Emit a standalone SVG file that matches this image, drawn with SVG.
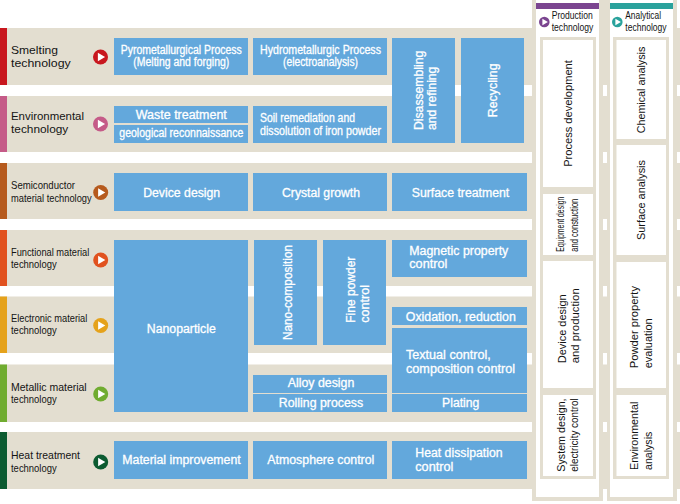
<svg xmlns="http://www.w3.org/2000/svg" width="680" height="504" viewBox="0 0 680 504">
<style>
.band{fill:#E3DED0}
.box{fill:#63A8DC}
.wh{fill:#FFFFFF}
.w{font-family:"Liberation Sans",Arial,sans-serif;fill:#FFFFFF;stroke:#FFFFFF;stroke-width:0.3;font-size:12px}
.c{text-anchor:middle}
.k{font-family:"Liberation Sans",Arial,sans-serif;fill:#141414;font-size:11px}
</style>
<defs>
<polygon id="tri" points="-2.6,-4.2 4.6,0 -2.6,4.2" fill="#FFFFFF"/>
<polygon id="tri2" points="-1.9,-3.2 3.6,0 -1.9,3.2" fill="#FFFFFF"/>
</defs>
<rect width="680" height="504" fill="#FFFFFF"/>

<g id="rows">
<g id="row-smelting">
<rect class="band" x="0" y="28" width="680" height="57"/>
<rect x="0" y="28" width="7" height="57" fill="#C8171E"/>
<text class="k" x="11" y="54" font-size="12.5" textLength="47" lengthAdjust="spacingAndGlyphs">Smelting</text>
<text class="k" x="11" y="66.5" font-size="12.5" textLength="59.7" lengthAdjust="spacingAndGlyphs">technology</text>
<circle cx="100.5" cy="57" r="7.5" fill="#C8171E"/><use href="#tri" x="100.5" y="57"/>
</g>
<g id="row-environmental">
<rect class="band" x="0" y="96" width="680" height="56"/>
<rect x="0" y="96" width="7" height="56" fill="#C55B88"/>
<text class="k" x="11" y="120" font-size="12" textLength="73" lengthAdjust="spacingAndGlyphs">Environmental</text>
<text class="k" x="11" y="132.7" font-size="12" textLength="57.3" lengthAdjust="spacingAndGlyphs">technology</text>
<circle cx="100.5" cy="124" r="7.5" fill="#C55B88"/><use href="#tri" x="100.5" y="124"/>
</g>
<g id="row-semiconductor">
<rect class="band" x="0" y="163" width="680" height="56"/>
<rect x="0" y="163" width="7" height="56" fill="#B65A1D"/>
<text class="k" x="11" y="189.3" textLength="64" lengthAdjust="spacingAndGlyphs">Semiconductor</text>
<text class="k" x="11" y="202.3" textLength="80.7" lengthAdjust="spacingAndGlyphs">material technology</text>
<circle cx="100.7" cy="192.5" r="7.5" fill="#B65A1D"/><use href="#tri" x="100.7" y="192.5"/>
</g>
<g id="row-functional">
<rect class="band" x="0" y="230" width="680" height="56"/>
<rect x="0" y="230" width="7" height="56" fill="#E1521F"/>
<text class="k" x="11" y="255.7" textLength="78.3" lengthAdjust="spacingAndGlyphs">Functional material</text>
<text class="k" x="11" y="268.3" textLength="45.7" lengthAdjust="spacingAndGlyphs">technology</text>
<circle cx="100.7" cy="260" r="7.5" fill="#E1521F"/><use href="#tri" x="100.7" y="260"/>
</g>
<g id="row-electronic">
<rect class="band" x="0" y="296.5" width="680" height="56.5"/>
<rect x="0" y="296.5" width="7" height="56.5" fill="#E5A21B"/>
<text class="k" x="11" y="321.7" textLength="76.3" lengthAdjust="spacingAndGlyphs">Electronic material</text>
<text class="k" x="11" y="334.3" textLength="45.7" lengthAdjust="spacingAndGlyphs">technology</text>
<circle cx="100.7" cy="325.5" r="7.5" fill="#E5A21B"/><use href="#tri" x="100.7" y="325.5"/>
</g>
<g id="row-metallic">
<rect class="band" x="0" y="364.5" width="680" height="57.5"/>
<rect x="0" y="364.5" width="7" height="57.5" fill="#70AC30"/>
<text class="k" x="11" y="390.7" textLength="75.7" lengthAdjust="spacingAndGlyphs">Metallic material</text>
<text class="k" x="11" y="403.3" textLength="45.7" lengthAdjust="spacingAndGlyphs">technology</text>
<circle cx="100.7" cy="394" r="7.5" fill="#70AC30"/><use href="#tri" x="100.7" y="394"/>
</g>
<g id="row-heat">
<rect class="band" x="0" y="432" width="680" height="57"/>
<rect x="0" y="432" width="7" height="57" fill="#0C5B31"/>
<text class="k" x="11" y="459" textLength="69" lengthAdjust="spacingAndGlyphs">Heat treatment</text>
<text class="k" x="11" y="471.7" textLength="45.7" lengthAdjust="spacingAndGlyphs">technology</text>
<circle cx="100.7" cy="462" r="7.5" fill="#0C5B31"/><use href="#tri" x="100.7" y="462"/>
</g>
</g>

<g id="boxes">
<g id="pyro"><rect class="box" x="114" y="38" width="134" height="37"/>
<text class="w c" x="181.3" y="53.5" textLength="121" lengthAdjust="spacingAndGlyphs">Pyrometallurgical Process</text>
<text class="w c" x="181.3" y="66" textLength="96" lengthAdjust="spacingAndGlyphs">(Melting and forging)</text></g>
<g id="hydro"><rect class="box" x="253" y="38" width="134" height="37"/>
<text class="w c" x="320.5" y="53.5" textLength="121" lengthAdjust="spacingAndGlyphs">Hydrometallurgic Process</text>
<text class="w c" x="320.5" y="66" textLength="75" lengthAdjust="spacingAndGlyphs">(electroanalysis)</text></g>
<g id="disassembling"><rect class="box" x="392" y="38" width="63" height="105"/>
<text class="w" transform="translate(423,130) rotate(-90)" textLength="79.3" lengthAdjust="spacingAndGlyphs">Disassembling</text>
<text class="w" transform="translate(436,130) rotate(-90)" textLength="63.3" lengthAdjust="spacingAndGlyphs">and refining</text></g>
<g id="recycling"><rect class="box" x="461" y="38" width="63" height="105"/>
<text class="w c" transform="translate(496.5,90.3) rotate(-90)" textLength="54" lengthAdjust="spacingAndGlyphs">Recycling</text></g>
<g id="waste"><rect class="box" x="114" y="106" width="134" height="17"/>
<text class="w c" x="181.3" y="118.7" font-size="13" textLength="91" lengthAdjust="spacingAndGlyphs">Waste treatment</text></g>
<g id="geological"><rect class="box" x="114" y="125" width="134" height="18"/>
<text class="w c" x="181.3" y="136.7" textLength="124" lengthAdjust="spacingAndGlyphs">geological reconnaissance</text></g>
<g id="soil"><rect class="box" x="253" y="106" width="134" height="37"/>
<text class="w" x="260" y="121.5" textLength="95" lengthAdjust="spacingAndGlyphs">Soil remediation and</text>
<text class="w" x="260" y="134.5" textLength="121" lengthAdjust="spacingAndGlyphs">dissolution of iron powder</text></g>
<g id="device"><rect class="box" x="114" y="173" width="134" height="38"/>
<text class="w c" x="181.7" y="196.7" textLength="77" lengthAdjust="spacingAndGlyphs">Device design</text></g>
<g id="crystal"><rect class="box" x="253" y="173" width="134" height="38"/>
<text class="w c" x="321" y="196.7" textLength="78" lengthAdjust="spacingAndGlyphs">Crystal growth</text></g>
<g id="surface"><rect class="box" x="392" y="173" width="135" height="38"/>
<text class="w c" x="460.5" y="196.7" textLength="97.6" lengthAdjust="spacingAndGlyphs">Surface treatment</text></g>
<g id="nanoparticle"><rect class="box" x="114" y="240" width="134" height="172"/>
<text class="w c" x="181.3" y="332.5" textLength="69" lengthAdjust="spacingAndGlyphs">Nanoparticle</text></g>
<g id="nanocomposition"><rect class="box" x="254" y="240" width="63" height="105"/>
<text class="w c" transform="translate(291.5,292.5) rotate(-90)" textLength="95" lengthAdjust="spacingAndGlyphs">Nano-composition</text></g>
<g id="finepowder"><rect class="box" x="323" y="240" width="63" height="105"/>
<text class="w" transform="translate(354.5,322.7) rotate(-90)" textLength="66" lengthAdjust="spacingAndGlyphs">Fine powder</text>
<text class="w" transform="translate(368.5,322.7) rotate(-90)" textLength="37.7" lengthAdjust="spacingAndGlyphs">control</text></g>
<g id="magnetic"><rect class="box" x="392" y="240" width="135" height="37"/>
<text class="w" x="409.3" y="255" textLength="99" lengthAdjust="spacingAndGlyphs">Magnetic property</text>
<text class="w" x="409.3" y="268.3" textLength="38" lengthAdjust="spacingAndGlyphs">control</text></g>
<g id="oxidation"><rect class="box" x="392" y="307" width="135" height="18"/>
<text class="w c" x="460.8" y="320.7" textLength="110" lengthAdjust="spacingAndGlyphs">Oxidation, reduction</text></g>
<g id="textual"><rect class="box" x="392" y="328" width="135" height="65"/>
<text class="w" x="406" y="359.3" textLength="84.7" lengthAdjust="spacingAndGlyphs">Textual control,</text>
<text class="w" x="406" y="372.7" textLength="109" lengthAdjust="spacingAndGlyphs">composition control</text></g>
<g id="plating"><rect class="box" x="392" y="394" width="135" height="18"/>
<text class="w c" x="460.7" y="407.3" textLength="37.3" lengthAdjust="spacingAndGlyphs">Plating</text></g>
<g id="alloy"><rect class="box" x="253" y="375" width="134" height="18"/>
<text class="w c" x="321" y="387.3" textLength="66.7" lengthAdjust="spacingAndGlyphs">Alloy design</text></g>
<g id="rolling"><rect class="box" x="253" y="394" width="134" height="18"/>
<text class="w c" x="321" y="407.3" textLength="84.3" lengthAdjust="spacingAndGlyphs">Rolling process</text></g>
<g id="material"><rect class="box" x="114" y="441" width="134" height="38"/>
<text class="w c" x="181.5" y="464.3" textLength="118.3" lengthAdjust="spacingAndGlyphs">Material improvement</text></g>
<g id="atmosphere"><rect class="box" x="253" y="441" width="134" height="38"/>
<text class="w c" x="320.8" y="464.3" textLength="107" lengthAdjust="spacingAndGlyphs">Atmosphere control</text></g>
<g id="heatdissipation"><rect class="box" x="392" y="441" width="135" height="38"/>
<text class="w" x="415.3" y="457.2" font-size="11.5" textLength="87.3" lengthAdjust="spacingAndGlyphs">Heat dissipation</text>
<text class="w" x="415.3" y="470.6" font-size="11.5" textLength="38" lengthAdjust="spacingAndGlyphs">control</text></g>
</g>

<g id="production">
<rect class="band" x="532" y="0" width="71" height="501"/>
<rect class="band" x="603" y="0" width="4" height="28"/>
<rect class="wh" x="536" y="0" width="63" height="497"/>
<rect x="536" y="3" width="63" height="6" fill="#7B4590"/>
<circle cx="544.3" cy="22" r="5.3" fill="#7B4590"/><use href="#tri2" x="544.3" y="22"/>
<text class="k" x="551.7" y="19.3" font-size="9.5" textLength="41" lengthAdjust="spacingAndGlyphs">Production</text>
<text class="k" x="551.7" y="30.7" font-size="9.5" textLength="41.6" lengthAdjust="spacingAndGlyphs">technology</text>
<rect class="band" x="540" y="37" width="56" height="442"/>
<g id="process-development"><rect class="wh" x="543" y="40" width="50" height="147"/>
<text class="k c" transform="translate(572,113.5) rotate(-90)" textLength="106.7" lengthAdjust="spacingAndGlyphs">Process development</text></g>
<g id="equipment-design"><rect class="wh" x="543" y="194" width="50" height="61"/>
<text class="k" transform="translate(563.5,251.7) rotate(-90)" font-size="8.5" textLength="55" lengthAdjust="spacingAndGlyphs">Equipment design</text>
<text class="k" transform="translate(578,251.7) rotate(-90)" font-size="8.5" textLength="53" lengthAdjust="spacingAndGlyphs">and constuction</text></g>
<g id="device-design-production"><rect class="wh" x="543" y="261" width="50" height="127"/>
<text class="k" transform="translate(566.2,363.3) rotate(-90)" textLength="69" lengthAdjust="spacingAndGlyphs">Device design</text>
<text class="k" transform="translate(578.5,363.3) rotate(-90)" textLength="75" lengthAdjust="spacingAndGlyphs">and production</text></g>
<g id="system-design"><rect class="wh" x="543" y="395" width="50" height="81"/>
<text class="k" transform="translate(564.5,471.7) rotate(-90)" font-size="10.5" textLength="73.3" lengthAdjust="spacingAndGlyphs">System design,</text>
<text class="k" transform="translate(578,471.7) rotate(-90)" font-size="10.5" textLength="73.3" lengthAdjust="spacingAndGlyphs">electricity control</text></g>
</g>

<g id="analytical">
<rect class="band" x="607" y="0" width="70" height="501"/>
<rect class="wh" x="610" y="0" width="63" height="497"/>
<rect x="610" y="3" width="63" height="6" fill="#2AA29C"/>
<circle cx="617.3" cy="22" r="5.3" fill="#2AA29C"/><use href="#tri2" x="617.3" y="22"/>
<text class="k" x="625.3" y="19.3" font-size="9.5" textLength="35.7" lengthAdjust="spacingAndGlyphs">Analytical</text>
<text class="k" x="625.3" y="30.7" font-size="9.5" textLength="41.3" lengthAdjust="spacingAndGlyphs">technology</text>
<rect class="band" x="613" y="37" width="56" height="442"/>
<g id="chemical-analysis"><rect class="wh" x="616.5" y="40" width="49.5" height="99"/>
<text class="k c" transform="translate(645,90) rotate(-90)" textLength="86.7" lengthAdjust="spacingAndGlyphs">Chemical analysis</text></g>
<g id="surface-analysis"><rect class="wh" x="616.5" y="145" width="49.5" height="110"/>
<text class="k c" transform="translate(645,200) rotate(-90)" textLength="80" lengthAdjust="spacingAndGlyphs">Surface analysis</text></g>
<g id="powder-property"><rect class="wh" x="616.5" y="262" width="49.5" height="126"/>
<text class="k" transform="translate(638,368.3) rotate(-90)" textLength="82.3" lengthAdjust="spacingAndGlyphs">Powder property</text>
<text class="k" transform="translate(651.5,368.3) rotate(-90)" textLength="50" lengthAdjust="spacingAndGlyphs">evaluation</text></g>
<g id="environmental-analysis"><rect class="wh" x="616.5" y="395" width="49.5" height="81"/>
<text class="k" transform="translate(638,470) rotate(-90)" textLength="68.3" lengthAdjust="spacingAndGlyphs">Environmental</text>
<text class="k" transform="translate(651.5,470) rotate(-90)" textLength="38.3" lengthAdjust="spacingAndGlyphs">analysis</text></g>
</g>
<g id="connectors"/>
</svg>
